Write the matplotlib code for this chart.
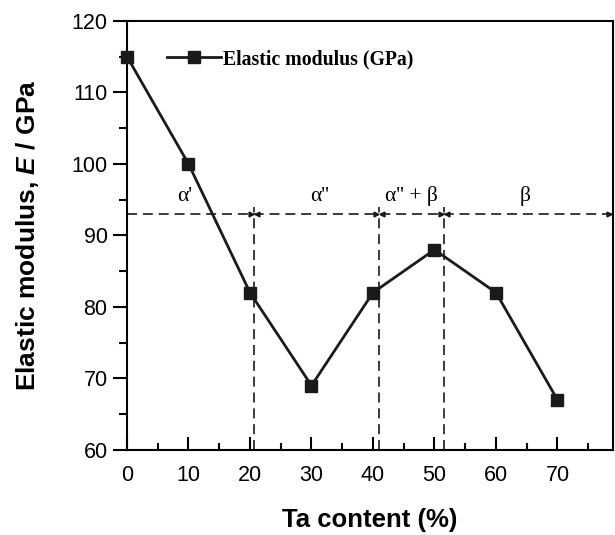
import numpy as np
import matplotlib.pyplot as plt
from matplotlib.ticker import MultipleLocator

plt.rcParams['font.family'] = 'Liberation Sans'
plt.rcParams['mathtext.fontset'] = 'custom'
plt.rcParams['mathtext.it'] = 'Liberation Sans:italic:bold'

# --- Data ---
ta = [0, 10, 20, 30, 40, 50, 60, 70]
modulus = [115, 100, 82, 69, 82, 88, 82, 67]

bounds = [20.7, 41.0, 51.5]
phase_y = 93
phases = ["α'", "α''", "α'' + β", "β"]
phase_x = [9.4, 31.3, 46.2, 64.8]

fig = plt.figure(figsize=(6.15, 5.35), dpi=100)
ax = fig.add_axes([0.2065, 0.159, 0.79, 0.802])

ax.plot(ta, modulus, color="#1a1a1a", lw=2, marker="s", ms=8,
        mec="#1a1a1a", mfc="#1a1a1a", label="Elastic modulus (GPa)",
        zorder=3, clip_on=False)

# phase boundaries
dash = (0, (6, 3.5))
ax.plot([0, 79], [phase_y, phase_y], ls=dash, color="#1a1a1a", lw=1.2)
for b in bounds:
    ax.plot([b, b], [60, phase_y + 1], ls=dash, color="#1a1a1a", lw=1.2)
    ax.plot(b - 0.5, phase_y, marker=">", ms=3.5, color="#1a1a1a")
    ax.plot(b + 0.5, phase_y, marker="<", ms=3.5, color="#1a1a1a")
ax.plot(78.4, phase_y, marker=">", ms=3.5, color="#1a1a1a")
for px, lab in zip(phase_x, phases):
    ax.text(px, 95.5, lab, family="Liberation Serif", fontsize=15.5,
            ha="center", va="center")

ax.set_xlim(0, 79)
ax.set_ylim(60, 120)
ax.xaxis.set_major_locator(MultipleLocator(10))
ax.xaxis.set_minor_locator(MultipleLocator(5))
ax.yaxis.set_major_locator(MultipleLocator(10))
ax.yaxis.set_minor_locator(MultipleLocator(5))
ax.tick_params(axis="x", which="major", direction="in", length=9.5,
               width=1.5, labelsize=15.5, top=False, pad=11)
ax.tick_params(axis="x", which="minor", direction="in", length=5,
               width=1.5, top=False)
ax.tick_params(axis="y", which="major", direction="out", length=10,
               width=1.5, labelsize=15.5, right=False, pad=4)
ax.tick_params(axis="y", which="minor", direction="out", length=6,
               width=1.5, right=False)
for s in ax.spines.values():
    s.set_linewidth(1.5)

ax.set_xlabel("Ta content (%)", fontsize=18.5, fontweight="bold", labelpad=16)
ax.set_ylabel("Elastic modulus, $E$ / GPa", fontsize=19,
              fontweight="bold", labelpad=22)

ax.legend(loc="upper left", bbox_to_anchor=(0.045, 0.975), frameon=False,
          prop={"family": "Liberation Serif", "weight": "bold", "size": 14.2},
          handlelength=2.75, handletextpad=0.1)

fig.savefig("out.png", dpi=100)
